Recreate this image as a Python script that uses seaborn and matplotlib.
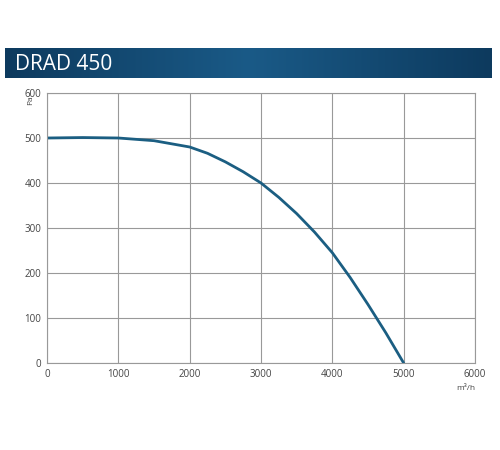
import matplotlib
matplotlib.use("Agg")
import matplotlib.pyplot as plt
import seaborn as sns
import numpy as np
import pandas as pd
from matplotlib.colors import LinearSegmentedColormap

title = "DRAD 450"
flow = [0, 500, 1000, 1500, 2000, 2250, 2500, 2750, 3000, 3250, 3500, 3750, 4000, 4250, 4500, 4750, 5000]
pressure = [500, 501, 500, 494, 480, 466, 447, 425, 400, 368, 332, 291, 245, 190, 130, 67, 0]

sns.set_style("white")
plt.rcParams['font.family'] = ['Open Sans', 'DejaVu Sans']
fig = plt.figure(figsize=(5, 4.5), dpi=100)

hax = fig.add_axes([0.01, 1 - 78/450, 0.974, 30/450])
grad = np.linspace(0, 1, 256)[None, :]
cm = LinearSegmentedColormap.from_list("g", ["#0d3a5e", "#1a5a87", "#0d3a5e"])
hax.imshow(grad, aspect="auto", cmap=cm, extent=[0, 1, 0, 1])
hax.set_axis_off()
hax.text(0.02, 0.45, title, color="white", fontsize=15, va="center", ha="left")

ax = fig.add_axes([47/500, 87/450, 428/500, 270/450])
df = pd.DataFrame({"flow": flow, "pressure": pressure})
sns.lineplot(data=df, x="flow", y="pressure", ax=ax, color="#1b5e82", linewidth=2)
ax.set_xlim(0, 6000)
ax.set_ylim(0, 600)
ax.set_xticks(range(0, 6001, 1000))
ax.set_yticks(range(0, 601, 100))
ax.grid(True, color="#999999", linewidth=0.8)
for s in ax.spines.values():
    s.set_color("#999999")
    s.set_linewidth(0.8)
ax.tick_params(labelsize=7, colors="#444444", length=0, pad=4)
ax.set_xlabel("")
ax.set_ylabel("")
ax.text(-0.03, 0.99, "Pa", transform=ax.transAxes, rotation=90, fontsize=6, color="#444444", ha="right", va="top")
ax.text(1.0, -0.08, "m³/h", transform=ax.transAxes, fontsize=6, color="#444444", ha="right", va="top")
fig.savefig("out.png", dpi=100)
